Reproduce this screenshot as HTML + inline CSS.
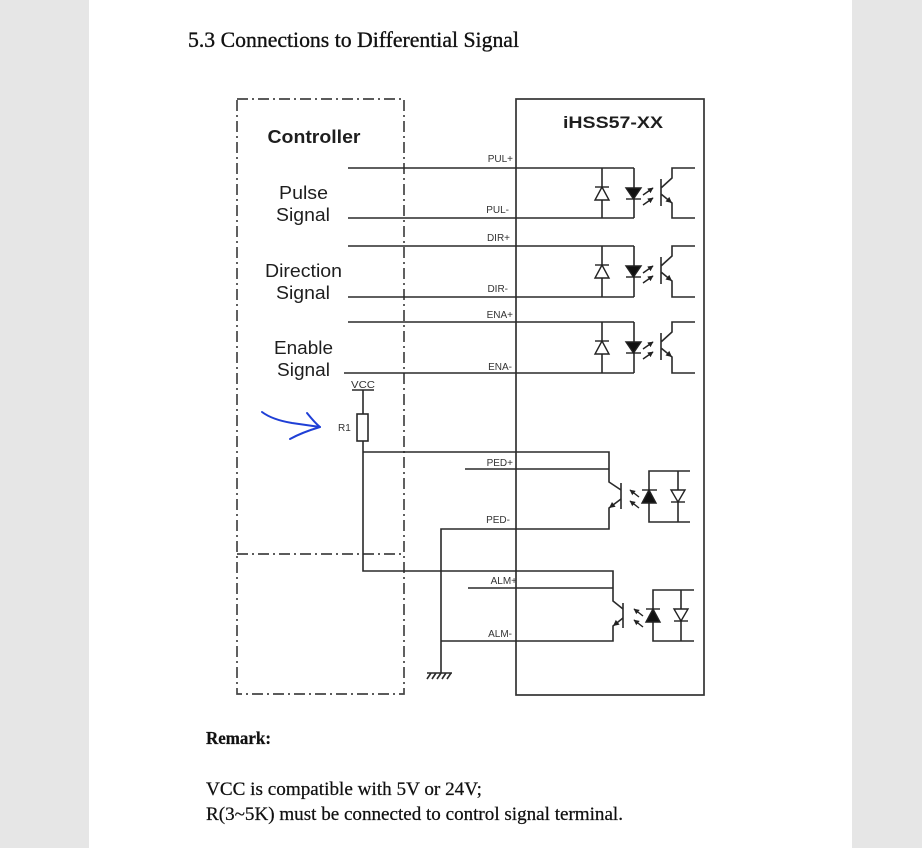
<!DOCTYPE html>
<html><head><meta charset="utf-8"><style>html,body{margin:0;padding:0;background:#e6e6e6;}svg{display:block;}</style></head>
<body>
<svg width="922" height="848" viewBox="0 0 922 848" xmlns="http://www.w3.org/2000/svg">
<defs>
<marker id="ah" viewBox="0 0 10 10" refX="9" refY="5" markerWidth="4" markerHeight="4" orient="auto"><path d="M0,0 L10,5 L0,10 z" fill="#222"/></marker>
</defs>
<rect x="0" y="0" width="922" height="848" fill="#e6e6e6"/>
<rect x="89" y="0" width="763" height="848" fill="#ffffff"/>

<text x="188" y="47" font-family="Liberation Serif, serif" font-size="22" fill="#111" stroke="#111" stroke-width="0.35" textLength="331" lengthAdjust="spacingAndGlyphs">5.3 Connections to Differential Signal</text>

<!-- controller dashed box -->
<g fill="none" stroke="#444" stroke-width="1.7" stroke-dasharray="11 4 2 4">
<path d="M237,99 H404 V694 H237 Z"/>
<path d="M237,554 H404"/>
</g>

<!-- main box -->
<rect x="516" y="99" width="188" height="596" fill="none" stroke="#333" stroke-width="1.7"/>

<g fill="none" stroke="#2a2a2a" stroke-width="1.6">
<path d="M348,168 H634 M348,218 H634 M602,168 V218 M634,168 V218"/>
<path d="M348,246 H634 M348,297 H634 M602,246 V297 M634,246 V297"/>
<path d="M348,322 H634 M344,373 H634 M602,322 V373 M634,322 V373"/>
<path d="M695,168 H672 V178 L661,188 M661,194 L672,203 V218 H695 M661,179 V206"/>
<path d="M695,246 H672 V256 L661,266 M661,272 L672,281 V297 H695 M661,257 V284"/>
<path d="M695,322 H672 V332 L661,342 M661,348 L672,357 V373 H695 M661,333 V360"/>
</g>

<g stroke="#222" stroke-width="1.4">
<path d="M595,187 H609" fill="none"/><polygon points="602,187 595,200 609,200" fill="#fff"/>
<polygon points="626,188 641,188 633.5,199" fill="#111"/><path d="M626,199 H641" fill="none"/>
<path d="M595,265 H609" fill="none"/><polygon points="602,265 595,278 609,278" fill="#fff"/>
<polygon points="626,266 641,266 633.5,277" fill="#111"/><path d="M626,277 H641" fill="none"/>
<path d="M595,341 H609" fill="none"/><polygon points="602,341 595,354 609,354" fill="#fff"/>
<polygon points="626,342 641,342 633.5,353" fill="#111"/><path d="M626,353 H641" fill="none"/>
</g>
<g stroke="#222" stroke-width="1.4" fill="none" marker-end="url(#ah)">
<path d="M643,195 L653,188"/><path d="M643,205 L653,198"/>
<path d="M643,273 L653,266"/><path d="M643,283 L653,276"/>
<path d="M643,349 L653,342"/><path d="M643,359 L653,352"/>
</g>
<g fill="#222">
<polygon points="672,203 665.5,201.5 669.3,196.9"/>
<polygon points="672,281 665.5,279.5 669.3,274.9"/>
<polygon points="672,357 665.5,355.5 669.3,350.9"/>
</g>

<g fill="none" stroke="#2a2a2a" stroke-width="1.6">
<path d="M352,390 H374 M363,390 V414"/>
<rect x="357" y="414" width="11" height="27" fill="#fff"/>
<path d="M363,441 V571 H613 V601 L623,609"/>
<path d="M363,452 H609 V482 L621,490"/>
<path d="M465,469 H609"/>
<path d="M621,483 V509"/>
<path d="M621,499 L609,508 V529 H441 V673"/>
<path d="M468,588 H613"/>
<path d="M623,603 V628"/>
<path d="M623,618 L613,626 V641 H441"/>
<path d="M427,673 H452 M431,673 L427,679 M436,673 L432,679 M441,673 L437,679 M446,673 L442,679 M451,673 L447,679"/>
<path d="M690,471 H649 V522 H690 M678,471 V522"/>
<path d="M694,590 H653 V641 H694 M681,590 V641"/>
</g>
<g fill="#222">
<polygon points="609,508 612,502 615.6,506.8"/>
<polygon points="613,626 619.6,624.6 615.8,619.9"/>
</g>
<g stroke="#222" stroke-width="1.4">
<path d="M642,490 H657" fill="none"/><polygon points="649,490 642,503 656,503" fill="#111"/>
<polygon points="671,490 685,490 678,502" fill="#fff"/><path d="M671,502 H685" fill="none"/>
<path d="M646,609 H660" fill="none"/><polygon points="653,609 646,622 660,622" fill="#111"/>
<polygon points="674,609 688,609 681,621" fill="#fff"/><path d="M674,621 H688" fill="none"/>
</g>
<g stroke="#222" stroke-width="1.4" fill="none" marker-end="url(#ah)">
<path d="M639,497 L630,490"/><path d="M639,508 L630,501"/>
<path d="M643,616 L634,609"/><path d="M643,627 L634,620"/>
</g>

<g font-family="Liberation Sans, Arial, sans-serif" fill="#1e1e1e">
<text x="314" y="143" font-size="18" font-weight="bold" text-anchor="middle" textLength="93" lengthAdjust="spacingAndGlyphs">Controller</text>
<text x="303.5" y="199" font-size="18" text-anchor="middle" textLength="49" lengthAdjust="spacingAndGlyphs">Pulse</text>
<text x="303" y="221" font-size="18" text-anchor="middle" textLength="54" lengthAdjust="spacingAndGlyphs">Signal</text>
<text x="303.5" y="277" font-size="18" text-anchor="middle" textLength="77" lengthAdjust="spacingAndGlyphs">Direction</text>
<text x="303" y="299" font-size="18" text-anchor="middle" textLength="54" lengthAdjust="spacingAndGlyphs">Signal</text>
<text x="303.5" y="354" font-size="18" text-anchor="middle" textLength="59" lengthAdjust="spacingAndGlyphs">Enable</text>
<text x="303.5" y="376" font-size="18" text-anchor="middle" textLength="53" lengthAdjust="spacingAndGlyphs">Signal</text>
<text x="613" y="128" font-size="16.5" font-weight="bold" text-anchor="middle" textLength="100" lengthAdjust="spacingAndGlyphs">iHSS57-XX</text>
</g>
<g font-family="Liberation Sans, Arial, sans-serif" font-size="10" fill="#333" text-anchor="end">
<text x="513" y="162">PUL+</text>
<text x="509" y="213">PUL-</text>
<text x="510" y="241">DIR+</text>
<text x="508" y="292">DIR-</text>
<text x="513" y="318">ENA+</text>
<text x="512" y="370">ENA-</text>
<text x="513" y="466">PED+</text>
<text x="510" y="523">PED-</text>
<text x="517" y="584">ALM+</text>
<text x="512" y="637">ALM-</text>
</g>
<g font-family="Liberation Sans, Arial, sans-serif" font-size="10" fill="#333">
<text x="351" y="388" textLength="24" lengthAdjust="spacingAndGlyphs">VCC</text>
<text x="338" y="431">R1</text>
</g>

<g fill="none" stroke="#1f3fd6" stroke-width="2" stroke-linecap="round" stroke-linejoin="round">
<path d="M262,412 C270,418 280,421 292,423 L320,427"/>
<path d="M307,413 C311,418 315,423 320,427 C310,430 299,434 290,439"/>
</g>

<g font-family="Liberation Serif, serif" fill="#111" stroke="#111" stroke-width="0.25">
<text x="206" y="744" font-size="18" font-weight="bold" textLength="65" lengthAdjust="spacingAndGlyphs">Remark:</text>
<text x="206" y="795" font-size="19" textLength="276" lengthAdjust="spacingAndGlyphs">VCC is compatible with 5V or 24V;</text>
<text x="206" y="820" font-size="19" textLength="417" lengthAdjust="spacingAndGlyphs">R(3~5K) must be connected to control signal terminal.</text>
</g>
</svg>
</body></html>
